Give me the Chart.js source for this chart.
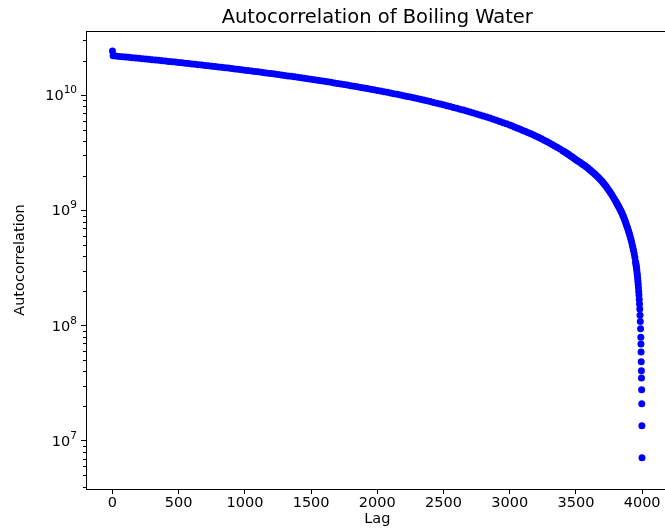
<!DOCTYPE html>
<html>
<head>
<meta charset="utf-8">
<script src="https://cdn.jsdelivr.net/npm/chart.js@4.4.1/dist/chart.umd.min.js"></script>
<style>
  html, body { margin: 0; padding: 0; background: #fff; overflow: hidden; }
  #wrap { width: 672px; height: 531px; }
</style>
</head>
<body>
<div id="wrap"><canvas id="myChart" width="672" height="531"></canvas></div>
<script>
// lag (samples) and autocorrelation of the boiling water recording
var lags = [
  0, 5, 25, 50, 75, 100, 125, 150, 175, 200, 225, 250, 275, 300, 325, 350, 375, 400,
  425, 450, 475, 500, 525, 550, 575, 600, 625, 650, 675, 700, 725, 750, 775, 800,
  825, 850, 875, 900, 925, 950, 975, 1000, 1025, 1050, 1075, 1100, 1125, 1150, 1175, 1200,
  1225, 1250, 1275, 1300, 1325, 1350, 1375, 1400, 1425, 1450, 1475, 1500, 1525, 1550, 1575, 1600,
  1625, 1650, 1675, 1700, 1725, 1750, 1775, 1800, 1825, 1850, 1875, 1900, 1925, 1950, 1975, 2000,
  2025, 2050, 2075, 2100, 2125, 2150, 2175, 2200, 2225, 2250, 2275, 2300, 2325, 2350, 2375, 2400,
  2425, 2450, 2475, 2500, 2525, 2550, 2575, 2600, 2625, 2650, 2675, 2700, 2725, 2750, 2775, 2800,
  2825, 2850, 2875, 2900, 2925, 2950, 2975, 3000,
  3020, 3040, 3060, 3080, 3100, 3120, 3140, 3160, 3180, 3200, 3220, 3240, 3260, 3280, 3300, 3320,
  3340, 3360, 3380, 3400,
  3410, 3420, 3430, 3440, 3450, 3460, 3470, 3480, 3490, 3500, 3510, 3520, 3530, 3540, 3550, 3560,
  3570, 3580, 3590, 3600, 3610, 3620, 3630, 3640, 3650, 3660, 3670, 3680, 3690, 3700, 3710, 3720,
  3730, 3740, 3750, 3760, 3770, 3780, 3790, 3800,
  3805, 3810, 3815, 3820, 3825, 3830, 3835, 3840, 3845, 3850, 3855, 3860, 3865, 3870, 3875, 3880,
  3885, 3890, 3895, 3900, 3905, 3910, 3915, 3920, 3925, 3930, 3935, 3940, 3945, 3950,
  3952, 3954, 3956, 3958, 3960, 3962, 3964, 3966, 3968, 3970, 3972, 3974, 3976, 3978, 3980, 3982,
  3984, 3986, 3988, 3990,
  3991, 3992, 3993, 3994, 3995, 3996, 3997, 3998, 3999
];

var acf = [
  24.2e9, 22.0e9, 21.86e9, 21.73e9, 21.59e9, 21.45e9, 21.31e9, 21.18e9, 21.04e9, 20.90e9, 20.76e9, 20.63e9, 20.49e9, 20.35e9, 20.21e9, 20.08e9, 19.94e9, 19.80e9,
  19.66e9, 19.53e9, 19.39e9, 19.25e9, 19.11e9, 18.98e9, 18.84e9, 18.70e9, 18.56e9, 18.43e9, 18.29e9, 18.15e9, 18.01e9, 17.88e9, 17.74e9, 17.60e9,
  17.46e9, 17.33e9, 17.19e9, 17.05e9, 16.91e9, 16.78e9, 16.64e9, 16.50e9, 16.36e9, 16.23e9, 16.09e9, 15.95e9, 15.81e9, 15.68e9, 15.54e9, 15.40e9,
  15.26e9, 15.13e9, 14.99e9, 14.85e9, 14.71e9, 14.58e9, 14.44e9, 14.30e9, 14.16e9, 14.03e9, 13.89e9, 13.75e9, 13.61e9, 13.48e9, 13.34e9, 13.20e9,
  13.06e9, 12.93e9, 12.79e9, 12.65e9, 12.51e9, 12.38e9, 12.24e9, 12.10e9, 11.96e9, 11.83e9, 11.69e9, 11.55e9, 11.41e9, 11.28e9, 11.14e9, 11.00e9,
  10.86e9, 10.73e9, 10.59e9, 10.45e9, 10.31e9, 10.18e9, 10.04e9, 9.90e9, 9.76e9, 9.63e9, 9.49e9, 9.35e9, 9.21e9, 9.08e9, 8.94e9, 8.80e9,
  8.66e9, 8.53e9, 8.39e9, 8.25e9, 8.11e9, 7.98e9, 7.84e9, 7.70e9, 7.56e9, 7.43e9, 7.29e9, 7.15e9, 7.01e9, 6.88e9, 6.74e9, 6.60e9,
  6.46e9, 6.33e9, 6.19e9, 6.05e9, 5.91e9, 5.78e9, 5.64e9, 5.50e9,
  5.39e9, 5.28e9, 5.17e9, 5.06e9, 4.95e9, 4.84e9, 4.73e9, 4.62e9, 4.51e9, 4.40e9, 4.29e9, 4.18e9, 4.07e9, 3.96e9, 3.85e9, 3.74e9,
  3.63e9, 3.52e9, 3.41e9, 3.30e9,
  3.245e9, 3.19e9, 3.135e9, 3.08e9, 3.025e9, 2.97e9, 2.915e9, 2.86e9, 2.805e9, 2.75e9, 2.705e9, 2.66e9, 2.613e9, 2.567e9, 2.52e9, 2.473e9,
  2.425e9, 2.377e9, 2.329e9, 2.28e9, 2.231e9, 2.181e9, 2.131e9, 2.081e9, 2.03e9, 1.979e9, 1.927e9, 1.875e9, 1.823e9, 1.77e9, 1.714e9, 1.658e9,
  1.601e9, 1.544e9, 1.488e9, 1.43e9, 1.373e9, 1.316e9, 1.258e9, 1.20e9,
  1.174e9, 1.148e9, 1.121e9, 1.094e9, 1.068e9, 1.040e9, 1.013e9, 0.986e9, 0.958e9, 0.930e9, 0.902e9, 0.874e9, 0.845e9, 0.816e9, 0.788e9, 0.758e9,
  0.730e9, 0.702e9, 0.674e9, 0.646e9, 0.618e9, 0.590e9, 0.561e9, 0.533e9, 0.504e9, 0.476e9, 0.449e9, 0.420e9, 0.391e9, 0.360e9,
  0.350e9, 0.338e9, 0.326e9, 0.313e9, 0.300e9, 0.285e9, 0.272e9, 0.257e9, 0.243e9, 0.228e9, 0.213e9, 0.198e9, 0.184e9, 0.168e9, 0.154e9, 0.139e9,
  0.123e9, 0.1085e9, 0.0936e9, 0.079e9,
  0.069e9, 0.059e9, 0.0484e9, 0.0405e9, 0.035e9, 0.0277e9, 0.0209e9, 0.0135e9, 0.0071e9
];

var xTicks = [0, 500, 1000, 1500, 2000, 2500, 3000, 3500, 4000];
var yTicks = [1e7, 1e8, 1e9, 1e10];
var chartTitle = 'Autocorrelation of Boiling Water';

var points = [];
for (var i = 0; i < lags.length; i++) {
    points.push({ x: lags[i], y: acf[i] });
}

// box around the plot, small log ticks, 10^n labels and the title centred on the axes
var frame = {
    id: 'frame',
    afterDraw: function (chart) {
        var ctx = chart.ctx;
        var a = chart.chartArea;
        var y = chart.scales.y;
        ctx.save();
        ctx.strokeStyle = '#000';
        ctx.lineWidth = 1;
        ctx.beginPath();
        ctx.moveTo(a.left, Math.round(a.top) + 0.5);
        ctx.lineTo(a.right, Math.round(a.top) + 0.5);
        ctx.moveTo(Math.round(a.right) - 0.5, a.top);
        ctx.lineTo(Math.round(a.right) - 0.5, a.bottom);
        for (var d = 6; d <= 10; d++) {
            for (var m = 2; m <= 9; m++) {
                var v = m * Math.pow(10, d);
                if (v < y.min || v > y.max) continue;
                var py = Math.round(y.getPixelForValue(v)) + 0.5;
                ctx.moveTo(a.left - 3, py);
                ctx.lineTo(a.left, py);
            }
        }
        ctx.stroke();

        ctx.fillStyle = '#000';
        ctx.textBaseline = 'alphabetic';

        // decade labels: "10" with a raised exponent
        var right = a.left - 9;
        yTicks.forEach(function (t) {
            var ty = y.getPixelForValue(t);
            var exp = String(Math.round(Math.log10(t)));
            ctx.font = '10.5px "DejaVu Sans"';
            var ew = ctx.measureText(exp).width;
            ctx.textAlign = 'left';
            ctx.fillText(exp, right - ew, ty - 2);
            ctx.font = '14.5px "DejaVu Sans"';
            ctx.textAlign = 'right';
            ctx.fillText('10', right - ew, ty + 5);
        });

        ctx.font = '19.5px "DejaVu Sans"';
        ctx.textAlign = 'center';
        ctx.fillText(chartTitle, (a.left + a.right) / 2, a.top - 8);
        ctx.restore();
    }
};

var ctx = document.getElementById('myChart').getContext('2d');
var myChart = new Chart(ctx, {
    type: 'scatter',
    data: {
        datasets: [{
            data: points,
            backgroundColor: '#0000ff',
            borderWidth: 0,
            pointRadius: 3.5,
            pointHoverRadius: 3.5
        }]
    },
    plugins: [frame],
    options: {
        responsive: false,
        animation: false,
        events: [],
        layout: { padding: { left: 0, right: 1, top: 31, bottom: 0 } },
        plugins: {
            legend: { display: false },
            tooltip: { enabled: false },
            title: { display: false }
        },
        scales: {
            x: {
                type: 'linear',
                min: -200,
                max: 4199,
                afterBuildTicks: function (scale) {
                    scale.ticks = xTicks.map(function (v) { return { value: v }; });
                },
                afterFit: function (scale) { scale.height = 42; },
                grid: { drawOnChartArea: false, drawTicks: true, tickLength: 5, color: '#000' },
                border: { color: '#000', width: 1 },
                ticks: {
                    color: '#000',
                    padding: 1,
                    maxRotation: 0,
                    autoSkip: false,
                    font: { family: 'DejaVu Sans', size: 14.5 },
                    callback: function (v) { return String(v); }
                },
                title: {
                    display: true,
                    text: 'Lag',
                    color: '#000',
                    font: { family: 'DejaVu Sans', size: 14.5 },
                    padding: { top: 0, bottom: 3 }
                }
            },
            y: {
                type: 'logarithmic',
                min: 3.81e6,
                max: 3.61e10,
                afterBuildTicks: function (scale) {
                    scale.ticks = yTicks.map(function (v) { return { value: v }; });
                },
                afterFit: function (scale) { scale.width = 86; },
                grid: { drawOnChartArea: false, drawTicks: true, tickLength: 5, color: '#000' },
                border: { color: '#000', width: 1 },
                ticks: { display: false },
                title: {
                    display: true,
                    text: 'Autocorrelation',
                    color: '#000',
                    font: { family: 'DejaVu Sans', size: 14.5 },
                    padding: { top: 12, bottom: 0 }
                }
            }
        }
    }
});
</script>
</body>
</html>
